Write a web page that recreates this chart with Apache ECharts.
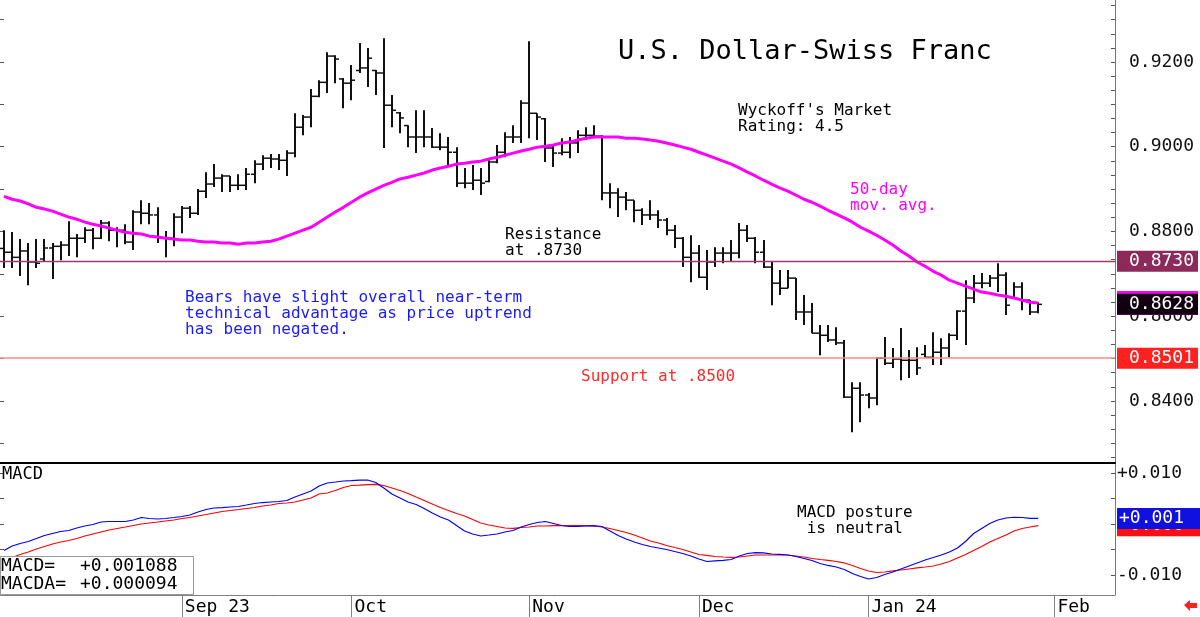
<!DOCTYPE html>
<html>
<head>
<meta charset="utf-8">
<script src="https://cdn.jsdelivr.net/npm/echarts@6/dist/echarts.min.js"></script>
<style>
  html, body { margin: 0; padding: 0; background: #fff; }
  #chart { width: 1200px; height: 617px; }
</style>
</head>
<body>
<div id="chart"></div>
<script>
// trading days, Aug 2 2023 onwards (no Thanksgiving bar in the source)
const startDay = [2023, 7, 2];
const skipDays = ['2023-11-23'];
const slotCount = 138;
const monthLabels = {
  '2023-09': 'Sep 23', '2023-10': 'Oct', '2023-11': 'Nov',
  '2023-12': 'Dec', '2024-01': 'Jan 24', '2024-02': 'Feb'
};

const opens = [
  0.8760,0.8751,0.8739,0.8754,0.8728,0.8735,0.8761,0.8765,0.8768,0.8784,
  0.8784,0.8803,0.8784,0.8820,0.8803,0.8803,0.8775,0.8846,0.8843,0.8839,
  0.8784,0.8784,0.8834,0.8855,0.8843,0.8895,0.8912,0.8926,0.8931,0.8909,
  0.8909,0.8935,0.8959,0.8973,0.8971,0.8968,0.8985,0.9046,0.9070,0.9119,
  0.9152,0.9214,0.9160,0.9150,0.9180,0.9186,0.9180,0.9174,0.9098,0.9080,
  0.9050,0.9023,0.9023,0.9023,0.8999,0.8999,0.8987,0.8914,0.8914,0.8921,
  0.8918,0.8964,0.8987,0.9023,0.9023,0.9103,0.9079,0.9066,0.8997,0.8985,
  0.8987,0.9009,0.9027,0.9027,0.9025,0.8891,0.8891,0.8881,0.8874,0.8850,
  0.8839,0.8839,0.8827,0.8803,0.8784,0.8739,0.8749,0.8692,0.8728,0.8749,
  0.8749,0.8749,0.8803,0.8784,0.8751,0.8716,0.8678,0.8666,0.8690,0.8610,
  0.8610,0.8560,0.8555,0.8544,0.8537,0.8409,0.8430,0.8414,0.8407,0.8501,
  0.8489,0.8499,0.8496,0.8496,0.8510,0.8503,0.8515,0.8525,0.8555,0.8612,
  0.8643,0.8678,0.8678,0.8690,0.8697,0.8645,0.8669,0.8638,0.8610
];
const highs = [
  0.8803,0.8799,0.8782,0.8773,0.8782,0.8782,0.8773,0.8777,0.8824,0.8794,
  0.8810,0.8808,0.8827,0.8824,0.8810,0.8817,0.8850,0.8874,0.8867,0.8857,
  0.8801,0.8843,0.8860,0.8860,0.8900,0.8940,0.8959,0.8935,0.8931,0.8935,
  0.8950,0.8968,0.8980,0.8983,0.8983,0.8992,0.9079,0.9075,0.9136,0.9157,
  0.9223,0.9216,0.9162,0.9193,0.9245,0.9233,0.9181,0.9256,0.9122,0.9082,
  0.9051,0.9086,0.9086,0.9044,0.9032,0.9023,0.8999,0.8950,0.8957,0.8950,
  0.8968,0.9004,0.9034,0.9051,0.9110,0.9249,0.9079,0.9068,0.9004,0.9020,
  0.9023,0.9039,0.9046,0.9051,0.9027,0.8914,0.8902,0.8893,0.8874,0.8855,
  0.8874,0.8850,0.8832,0.8815,0.8787,0.8791,0.8768,0.8756,0.8763,0.8763,
  0.8780,0.8820,0.8815,0.8787,0.8780,0.8728,0.8709,0.8709,0.8690,0.8650,
  0.8631,0.8579,0.8579,0.8574,0.8544,0.8444,0.8444,0.8419,0.8503,0.8551,
  0.8525,0.8572,0.8520,0.8527,0.8532,0.8562,0.8548,0.8560,0.8614,0.8685,
  0.8697,0.8702,0.8697,0.8725,0.8704,0.8680,0.8680,0.8638,0.8633
];
const lows = [
  0.8714,0.8714,0.8695,0.8673,0.8714,0.8728,0.8688,0.8732,0.8742,0.8739,
  0.8773,0.8758,0.8782,0.8777,0.8763,0.8770,0.8756,0.8817,0.8817,0.8773,
  0.8739,0.8765,0.8796,0.8832,0.8839,0.8879,0.8905,0.8893,0.8893,0.8898,
  0.8898,0.8914,0.8945,0.8950,0.8945,0.8931,0.8975,0.9027,0.9046,0.9117,
  0.9127,0.9150,0.9091,0.9110,0.9174,0.9141,0.9122,0.8997,0.9046,0.9032,
  0.8999,0.8985,0.8999,0.8997,0.8992,0.8952,0.8905,0.8902,0.8898,0.8886,
  0.8916,0.8961,0.8975,0.9009,0.9009,0.9020,0.9016,0.8964,0.8952,0.8980,
  0.8973,0.8985,0.9016,0.9020,0.8874,0.8855,0.8834,0.8850,0.8822,0.8815,
  0.8827,0.8808,0.8791,0.8761,0.8716,0.8680,0.8690,0.8662,0.8716,0.8725,
  0.8728,0.8737,0.8775,0.8725,0.8714,0.8626,0.8650,0.8666,0.8591,0.8579,
  0.8560,0.8508,0.8539,0.8532,0.8407,0.8326,0.8350,0.8383,0.8390,0.8485,
  0.8478,0.8449,0.8454,0.8461,0.8503,0.8485,0.8485,0.8503,0.8544,0.8532,
  0.8631,0.8666,0.8669,0.8657,0.8603,0.8643,0.8614,0.8603,0.8607
];
const closes = [
  0.8751,0.8739,0.8754,0.8728,0.8725,0.8761,0.8765,0.8768,0.8784,0.8784,
  0.8803,0.8784,0.8820,0.8803,0.8803,0.8775,0.8846,0.8843,0.8839,0.8784,
  0.8784,0.8834,0.8855,0.8843,0.8895,0.8912,0.8926,0.8931,0.8909,0.8909,
  0.8935,0.8959,0.8973,0.8971,0.8968,0.8985,0.9046,0.9070,0.9119,0.9152,
  0.9214,0.9207,0.9150,0.9157,0.9186,0.9209,0.9174,0.9098,0.9086,0.9068,
  0.9023,0.9023,0.9023,0.8999,0.8999,0.8987,0.8914,0.8914,0.8921,0.8914,
  0.8964,0.8987,0.9023,0.9023,0.9103,0.9079,0.9070,0.8997,0.8985,0.8987,
  0.9009,0.9027,0.9027,0.9025,0.8891,0.8891,0.8881,0.8874,0.8850,0.8839,
  0.8839,0.8827,0.8803,0.8784,0.8739,0.8749,0.8692,0.8728,0.8749,0.8749,
  0.8749,0.8803,0.8784,0.8751,0.8716,0.8678,0.8666,0.8690,0.8610,0.8610,
  0.8560,0.8555,0.8544,0.8537,0.8409,0.8430,0.8414,0.8407,0.8501,0.8489,
  0.8499,0.8496,0.8496,0.8478,0.8503,0.8515,0.8525,0.8555,0.8612,0.8643,
  0.8678,0.8678,0.8690,0.8697,0.8626,0.8669,0.8638,0.8610,0.8628
];
const ma50 = [
  0.8883,0.8876,0.8872,0.8865,0.8857,0.8853,0.8848,0.8841,0.8834,0.8829,
  0.8822,0.8817,0.8813,0.8808,0.8803,0.8798,0.8796,0.8794,0.8789,0.8787,
  0.8784,0.8782,0.8780,0.8780,0.8777,0.8775,0.8775,0.8773,0.8773,0.8770,
  0.8773,0.8773,0.8775,0.8777,0.8782,0.8789,0.8796,0.8803,0.8810,0.8822,
  0.8834,0.8846,0.8857,0.8869,0.8881,0.8891,0.8900,0.8909,0.8916,0.8924,
  0.8928,0.8933,0.8938,0.8945,0.8950,0.8954,0.8959,0.8961,0.8964,0.8966,
  0.8971,0.8975,0.8980,0.8985,0.8990,0.8994,0.8999,0.9001,0.9004,0.9009,
  0.9011,0.9016,0.9020,0.9023,0.9023,0.9023,0.9023,0.9020,0.9020,0.9018,
  0.9016,0.9013,0.9009,0.9004,0.8999,0.8994,0.8987,0.8980,0.8973,0.8966,
  0.8959,0.8950,0.8940,0.8931,0.8921,0.8912,0.8903,0.8895,0.8886,0.8876,
  0.8869,0.8860,0.8850,0.8841,0.8832,0.8822,0.8810,0.8801,0.8791,0.8780,
  0.8768,0.8754,0.8742,0.8728,0.8718,0.8706,0.8697,0.8685,0.8678,0.8671,
  0.8664,0.8657,0.8654,0.8650,0.8647,0.8643,0.8638,0.8633,0.8631
];
const macd = [
  -0.00519,-0.00431,-0.00382,-0.00343,-0.00284,-0.00225,-0.00186,-0.00147,-0.00127,-0.00078,
  -0.00039,-0.0001,0.00039,0.00049,0.00049,0.00049,0.00078,0.00127,0.00108,0.00098,
  0.00108,0.00127,0.00147,0.00176,0.00235,0.00284,0.00314,0.00323,0.00333,0.00343,
  0.00372,0.00402,0.00421,0.00431,0.00441,0.00461,0.00529,0.00588,0.00647,0.00745,
  0.00804,0.00823,0.00843,0.00849,0.00862,0.00862,0.00813,0.00706,0.00588,0.0051,
  0.00431,0.00382,0.00304,0.00216,0.00137,0.00078,-0.00029,-0.00137,-0.00196,-0.00235,
  -0.00216,-0.00196,-0.00157,-0.00127,-0.00059,-0.0001,0.00029,0.00049,0.0001,-0.00029,
  -0.00049,-0.00049,-0.00039,-0.00033,-0.00049,-0.00137,-0.00225,-0.00294,-0.00353,-0.00402,
  -0.00441,-0.0047,-0.005,-0.00539,-0.00578,-0.00627,-0.00686,-0.00735,-0.00725,-0.00715,
  -0.00696,-0.00627,-0.00578,-0.00563,-0.00568,-0.00588,-0.00594,-0.00608,-0.00637,-0.00676,
  -0.00715,-0.00774,-0.00813,-0.00843,-0.00892,-0.0097,-0.01029,-0.01078,-0.01049,-0.0099,
  -0.00941,-0.00882,-0.00823,-0.00764,-0.00706,-0.00657,-0.00608,-0.00549,-0.0047,-0.00343,
  -0.00186,-0.00088,0.0001,0.00078,0.00118,0.00132,0.00127,0.00112,0.00109
];
const macdSignal = [
  -0.00706,-0.00657,-0.00598,-0.00549,-0.0049,-0.00441,-0.00392,-0.00353,-0.00323,-0.00284,
  -0.00235,-0.00196,-0.00157,-0.00118,-0.00088,-0.00059,-0.00029,0,0.0002,0.00039,
  0.00059,0.00078,0.00108,0.00127,0.00157,0.00186,0.00216,0.00245,0.00265,0.00284,
  0.00304,0.00323,0.00353,0.00372,0.00402,0.00412,0.00431,0.0047,0.0051,0.00588,
  0.00608,0.00657,0.00715,0.00755,0.00764,0.00774,0.00778,0.00755,0.00706,0.00657,
  0.00598,0.00529,0.00461,0.00392,0.00323,0.00265,0.00206,0.00157,0.00088,0.0002,
  -0.0002,-0.00049,-0.00078,-0.00084,-0.00069,-0.00059,-0.00039,-0.00039,-0.00033,-0.00033,
  -0.00033,-0.00033,-0.00033,-0.00039,-0.00059,-0.00088,-0.00127,-0.00167,-0.00216,-0.00274,
  -0.00333,-0.00372,-0.00421,-0.00461,-0.005,-0.00549,-0.00598,-0.00617,-0.00637,-0.00647,
  -0.00653,-0.00647,-0.00627,-0.00608,-0.00608,-0.00608,-0.00608,-0.00608,-0.00627,-0.00647,
  -0.00676,-0.00696,-0.00715,-0.00735,-0.00764,-0.00813,-0.00872,-0.00921,-0.00951,-0.00941,
  -0.00921,-0.00902,-0.00882,-0.00862,-0.00843,-0.00823,-0.00784,-0.00735,-0.00666,-0.00598,
  -0.00519,-0.00441,-0.00353,-0.00284,-0.00216,-0.00137,-0.00088,-0.00059,-0.00033
];
const resistance = 0.8730;
const support = 0.8501;
const priceLabels = [0.84, 0.86, 0.88, 0.90, 0.92];
const macdLabels = [-0.01, 0.01];
const macdTicks = [-0.01, -0.005, 0, 0.005, 0.01];

// build the category axis
const dates = [];
const d = new Date(Date.UTC(startDay[0], startDay[1], startDay[2]));
while (dates.length < slotCount) {
  const s = d.toISOString().slice(0, 10);
  const wd = d.getUTCDay();
  if (wd !== 0 && wd !== 6 && !skipDays.includes(s)) dates.push(s);
  d.setUTCDate(d.getUTCDate() + 1);
}
const isMonthStart = (i) => i > 0 && dates[i].slice(0, 7) !== dates[i - 1].slice(0, 7);

const ohlc = opens.map((o, i) => [i, o, highs[i], lows[i], closes[i]]);

// axis ticks (decoration only)
const priceMin = 0.825357, priceMax = 0.934633;
const minorTicks = [];
for (let k = -28; k <= 4; k++) minorTicks.push(0.92 + k / 300);
const leftTicks = [];
for (let k = 83; k <= 93; k++) leftTicks.push(k / 100);

const mono = '"DejaVu Sans Mono", monospace';
const ink = '#111';
const clear = 'rgba(0,0,0,0)';

function renderBar(params, api) {
  const i = api.value(0);
  const hi = api.coord([i, api.value(2)]);
  const lo = api.coord([i, api.value(3)]);
  const op = api.coord([i, api.value(1)]);
  const cl = api.coord([i, api.value(4)]);
  const x = Math.round(hi[0]);
  return {
    type: 'group',
    children: [
      {type: 'line', shape: {x1: x, y1: hi[1], x2: x, y2: lo[1]}, style: {stroke: ink, lineWidth: 2}},
      {type: 'line', shape: {x1: x - 4, y1: op[1], x2: x, y2: op[1]}, style: {stroke: ink, lineWidth: 1.5}},
      {type: 'line', shape: {x1: x, y1: cl[1], x2: x + 4, y2: cl[1]}, style: {stroke: ink, lineWidth: 1.5}}
    ]
  };
}

// value box at the right edge, no visible line
function sideLabel(value, text, bg, pad) {
  return {
    yAxis: value,
    lineStyle: {color: clear, width: 1},
    label: {
      show: true, position: 'end', distance: 2, formatter: text,
      color: '#fff', backgroundColor: bg, fontFamily: mono, fontSize: 18,
      padding: pad || [2, 4, 1, 12], lineHeight: 18
    }
  };
}

const txt = (x, y, text, fill, size) => ({
  type: 'text', z: 100,
  style: {x: x, y: y, text: text, fill: fill, font: size + 'px ' + mono,
    verticalAlign: 'middle', lineHeight: size}
});

const myChart = echarts.init(document.getElementById('chart'));
myChart.setOption({
  animation: false,
  backgroundColor: '#fff',
  grid: [
    {left: 0, top: 0, width: 1115, height: 463},
    {left: 0, top: 463, width: 1115, height: 132}
  ],
  xAxis: [
    {
      type: 'category', gridIndex: 0, data: dates,
      axisLine: {show: true, onZero: false, lineStyle: {color: '#000', width: 2}},
      axisTick: {show: false}, axisLabel: {show: false}, splitLine: {show: false}
    },
    {
      type: 'category', gridIndex: 1, data: dates, position: 'bottom',
      axisLine: {show: true, onZero: false, lineStyle: {color: '#808080', width: 1}},
      axisTick: {
        show: true, alignWithLabel: true, length: 22,
        interval: (i) => isMonthStart(i),
        lineStyle: {color: '#808080'}
      },
      axisLabel: {
        show: true, interval: (i) => isMonthStart(i), align: 'left', margin: 3,
        padding: [0, 0, 0, 3],
        formatter: (v) => monthLabels[v.slice(0, 7)] || '',
        fontFamily: mono, fontSize: 18, color: '#000'
      },
      splitLine: {show: false}
    }
  ],
  yAxis: [
    {
      type: 'value', gridIndex: 0, position: 'right', min: priceMin, max: priceMax,
      axisLine: {show: true, lineStyle: {color: '#777'}},
      axisTick: {show: true, inside: true, length: 4, customValues: minorTicks, lineStyle: {color: '#555'}},
      axisLabel: {
        show: true, customValues: priceLabels, margin: 14,
        formatter: (v) => v.toFixed(4), fontFamily: mono, fontSize: 18, color: '#111'
      },
      splitLine: {show: false}
    },
    {
      type: 'value', gridIndex: 0, position: 'left', min: priceMin, max: priceMax,
      axisLine: {show: false},
      axisTick: {show: true, inside: true, length: 4, customValues: leftTicks, lineStyle: {color: '#555'}},
      axisLabel: {show: false}, splitLine: {show: false}
    },
    {
      type: 'value', gridIndex: 1, position: 'right', min: -0.013922, max: 0.011961,
      axisLine: {show: true, lineStyle: {color: '#777'}},
      axisTick: {show: true, inside: true, length: 4, customValues: macdTicks, lineStyle: {color: '#555'}},
      axisLabel: {
        show: true, customValues: macdLabels, margin: 2,
        formatter: (v) => (v > 0 ? '+' : '-') + Math.abs(v).toFixed(3),
        fontFamily: mono, fontSize: 18, color: '#111'
      },
      splitLine: {show: false}
    },
    {
      type: 'value', gridIndex: 1, position: 'left', min: -0.013922, max: 0.011961,
      axisLine: {show: false},
      axisTick: {show: true, inside: true, length: 4, customValues: macdTicks, lineStyle: {color: '#555'}},
      axisLabel: {show: false}, splitLine: {show: false}
    }
  ],
  series: [
    {
      name: 'USD/CHF', type: 'custom', xAxisIndex: 0, yAxisIndex: 0,
      renderItem: renderBar, data: ohlc, encode: {x: 0, y: [1, 2, 3, 4]},
      markLine: {
        silent: true, symbol: ['none', 'none'], precision: 6,
        data: [
          {
            yAxis: resistance, lineStyle: {color: '#a03a6c', width: 1.3, type: 'solid'},
            label: {
              show: true, position: 'end', distance: 2, formatter: resistance.toFixed(4),
              color: '#fff', backgroundColor: '#8c2a5c', fontFamily: mono, fontSize: 18,
              padding: [2, 4, 1, 12], lineHeight: 18
            }
          },
          {
            yAxis: support, lineStyle: {color: '#ff8a8a', width: 1.5, type: 'solid'},
            label: {
              show: true, position: 'end', distance: 2, formatter: support.toFixed(4),
              color: '#fff', backgroundColor: '#ff2020', fontFamily: mono, fontSize: 18,
              padding: [2, 4, 1, 12], lineHeight: 18
            }
          }
        ]
      }
    },
    {
      name: '50-day', type: 'line', xAxisIndex: 0, yAxisIndex: 0, data: ma50,
      showSymbol: false, lineStyle: {color: '#ff00ff', width: 3}, z: 3,
      markLine: {
        silent: true, symbol: ['none', 'none'], precision: 6,
        data: [
          sideLabel(ma50[ma50.length - 1], ma50[ma50.length - 1].toFixed(4), '#ff00ff', [5, 4, 1, 12]),
          sideLabel(closes[closes.length - 1], closes[closes.length - 1].toFixed(4), '#120010')
        ]
      }
    },
    {
      name: 'MACDA', type: 'line', xAxisIndex: 1, yAxisIndex: 2, data: macdSignal,
      showSymbol: false, lineStyle: {color: '#ff0000', width: 1.2},
      markLine: {
        silent: true, symbol: ['none', 'none'], precision: 6,
        data: [sideLabel(macdSignal[macdSignal.length - 1], '+0.000', '#ff1010', [2, 16, 1, 2])]
      }
    },
    {
      name: 'MACD', type: 'line', xAxisIndex: 1, yAxisIndex: 2, data: macd,
      showSymbol: false, lineStyle: {color: '#0000ff', width: 1.2},
      markLine: {
        silent: true, symbol: ['none', 'none'], precision: 6,
        data: [sideLabel(macd[macd.length - 1], '+' + macd[macd.length - 1].toFixed(3), '#1010e0', [2, 16, 1, 2])]
      }
    }
  ],
  graphic: [
    txt(618, 52, 'U.S. Dollar-Swiss Franc', '#000', 27),
    txt(738, 119, "Wyckoff's Market\nRating: 4.5", '#000', 16),
    txt(850, 198, '50-day\nmov. avg.', '#ff00ff', 16),
    txt(505, 243, 'Resistance\nat .8730', '#000', 16),
    txt(185, 314, 'Bears have slight overall near-term\ntechnical advantage as price uptrend\nhas been negated.', '#1a1aff', 16),
    txt(581, 377, 'Support at .8500', '#ff2a2a', 16),
    txt(797, 521, 'MACD posture\n is neutral', '#000', 16),
    txt(2, 475, 'MACD', '#000', 17),
    {
      type: 'rect', z: 99,
      shape: {x: 0.5, y: 556.5, width: 193, height: 38},
      style: {fill: '#fff', stroke: '#999', lineWidth: 1}
    },
    txt(1, 566, 'MACD=', '#000', 18),
    txt(80, 566, '+0.001088', '#000', 18),
    txt(1, 584, 'MACDA=', '#000', 18),
    txt(80, 584, '+0.000094', '#000', 18),
    {
      type: 'polygon', z: 100,
      shape: {points: [[1184, 605], [1190, 600], [1190, 603], [1197, 603], [1197, 608], [1190, 608], [1190, 611]]},
      style: {fill: '#ff2020'}
    }
  ]
});
</script>
</body>
</html>
